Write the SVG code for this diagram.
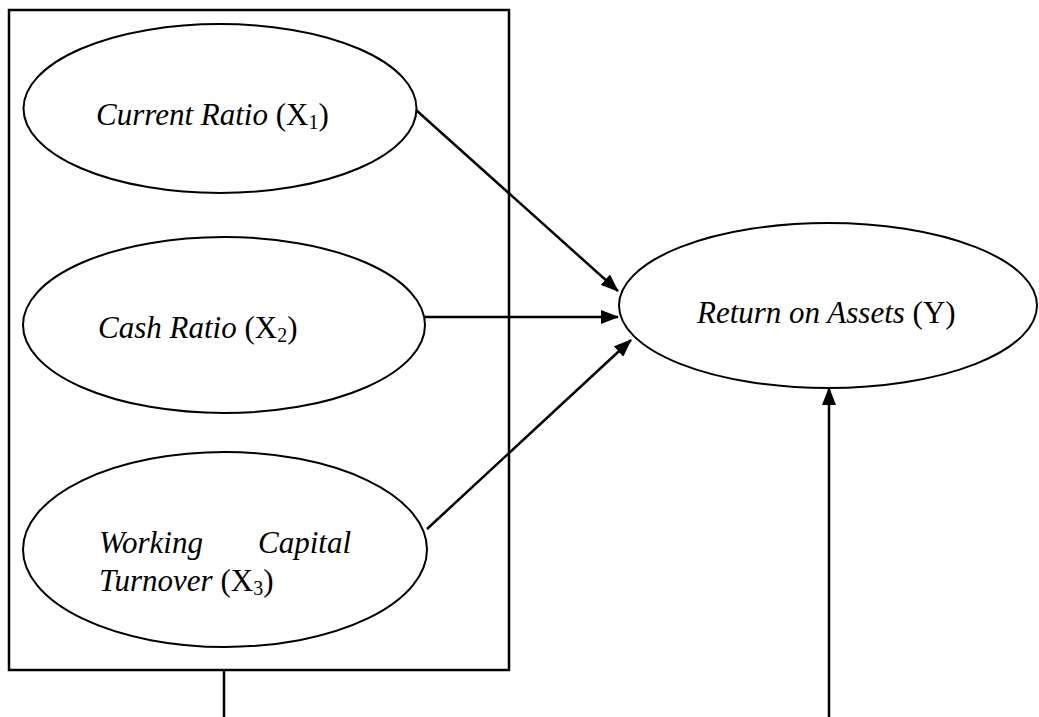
<svg xmlns="http://www.w3.org/2000/svg" width="1039" height="717" viewBox="0 0 1039 717">
<style>
.sh{fill:#fff;stroke:#000;stroke-width:2}
.ln{fill:none;stroke:#000;stroke-width:2.5}
.t{font-family:"Times New Roman","Liberation Serif","DejaVu Serif",serif;font-size:31px;fill:#000}
.i{font-style:italic}
.s{font-size:20px}
</style>
<defs>
<marker id="a" viewBox="0 0 18 14" refX="17" refY="7" markerWidth="18" markerHeight="14" markerUnits="userSpaceOnUse" orient="auto">
<path d="M0,0 L18,7 L0,14 z" fill="#000"/>
</marker>
</defs>
<g id="frame">
<rect x="9" y="10" width="500" height="660" class="ln"/>
</g>
<g id="connectors">
<line x1="416" y1="110" x2="618" y2="291" class="ln" marker-end="url(#a)"/>
<line x1="425" y1="317" x2="618" y2="317" class="ln" marker-end="url(#a)"/>
<line x1="427" y1="529" x2="631" y2="340" class="ln" marker-end="url(#a)"/>
<line x1="829" y1="717" x2="829" y2="388" class="ln" marker-end="url(#a)"/>
<line x1="224" y1="670" x2="224" y2="717" class="ln"/>
</g>
<g id="n1">
<ellipse cx="220" cy="108.5" rx="196.5" ry="84.5" class="sh"/>
<text x="96" y="125" class="t"><tspan class="i">Current Ratio</tspan> (X<tspan class="s" dy="4">1</tspan><tspan dy="-4">)</tspan></text>
</g>
<g id="n2">
<ellipse cx="224" cy="325" rx="201" ry="88" class="sh"/>
<text x="98" y="338" class="t"><tspan class="i">Cash Ratio</tspan> (X<tspan class="s" dy="4">2</tspan><tspan dy="-4">)</tspan></text>
</g>
<g id="n3">
<ellipse cx="225" cy="549.5" rx="202" ry="97.5" class="sh"/>
<text x="99" y="553" class="t i">Working</text>
<text x="351" y="553" class="t i" text-anchor="end">Capital</text>
<text x="99" y="591" class="t"><tspan class="i">Turnover</tspan> (X<tspan class="s" dy="4">3</tspan><tspan dy="-4">)</tspan></text>
</g>
<g id="y">
<ellipse cx="828" cy="305.5" rx="209" ry="82.5" class="sh"/>
<text x="697" y="323" class="t"><tspan class="i">Return on Assets</tspan> (Y)</text>
</g>
</svg>
